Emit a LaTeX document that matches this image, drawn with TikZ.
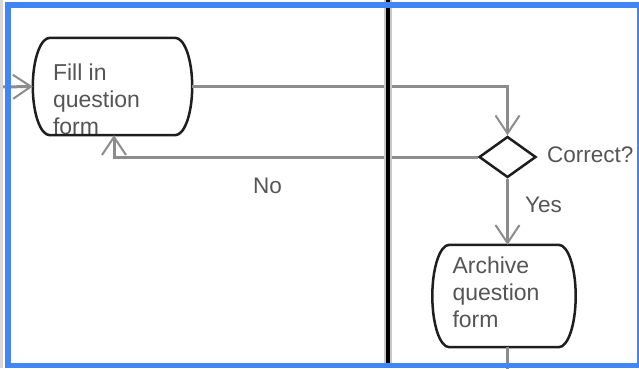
\documentclass[tikz,border=0pt]{standalone}
\usepackage{fontspec}
\setmainfont{Liberation Sans}
\usetikzlibrary{arrows.meta,shapes.geometric,calc}
\definecolor{frameblue}{RGB}{66,133,244}
\definecolor{conn}{RGB}{140,140,140}
\definecolor{txt}{RGB}{85,85,85}
\definecolor{outline}{RGB}{30,30,30}
\newcommand{\boxtext}[2]{\makebox[#1][l]{\begin{tabular}[t]{@{}l@{}}#2\end{tabular}}}
% capsule outline with half-elliptic sides (rx = 17pt) around a named node
\newcommand{\capsuleoutline}[1]{%
  \path[draw=outline, line width=2.5pt]
    ([xshift=17pt]#1.north west) -- ([xshift=-17pt]#1.north east)
    .. controls ([xshift=-7.61pt]#1.north east) and ($(#1.east)!0.5523!(#1.north east)$) .. (#1.east)
    .. controls ($(#1.east)!0.5523!(#1.south east)$) and ([xshift=-7.61pt]#1.south east) .. ([xshift=-17pt]#1.south east)
    -- ([xshift=17pt]#1.south west)
    .. controls ([xshift=7.61pt]#1.south west) and ($(#1.west)!0.5523!(#1.south west)$) .. (#1.west)
    .. controls ($(#1.west)!0.5523!(#1.north west)$) and ([xshift=7.61pt]#1.north west) .. cycle;}
\begin{document}
\begin{tikzpicture}[x=1pt,y=-1pt,
  activity/.style={inner sep=0pt, font=\fontsize{23}{27}\selectfont, text=txt},
  decision/.style={draw=outline, line width=2.5pt, diamond, inner sep=0pt,
    minimum width=57pt, minimum height=41pt, fill=white},
  flow/.style={draw=conn, line width=3pt, -{Straight Barb[length=18pt,width=24pt,line width=2pt]}},
  plainflow/.style={draw=conn, line width=3pt},
  lbl/.style={font=\fontsize{22.5}{27}\selectfont, text=txt, inner sep=0pt, anchor=base west}]
\path[fill=white] (0,0) rectangle (639,368);
\useasboundingbox (0,0) rectangle (639,368);
% nodes
\node[activity, minimum width=159pt, minimum height=97pt, text height=0pt, text depth=13pt]
  (fill) at (112.5,86.5) {\boxtext{119pt}{Fill in\\question\\form}};
\node[decision] (dec) at (507.5,157) {};
\node[activity, minimum width=143pt, minimum height=102pt, text height=0pt, text depth=46pt]
  (arch) at (504,296) {\boxtext{103pt}{Archive\\question\\form}};
\capsuleoutline{fill}
\capsuleoutline{arch}
% connectors
\coordinate (in) at (0,87);
\coordinate (out) at (507.5,370);
\draw[flow] (in) -- (fill.west);
\draw[flow] (fill.east) -| (dec.north);
\draw[flow] (dec.west) -| ([xshift=1.5pt]fill.south);
\draw[flow] (dec.south) -- (dec.south |- arch.north);
\draw[plainflow] (out |- arch.south) -- (out);
% labels
\node[lbl] (correct) at (547,162) {Correct?};
\node[lbl] (yes) at (525,212) {Yes};
\node[lbl] (no) at (253,193) {No};
% swimlane separator
\draw[line width=8pt, color={rgb,255:red,200;green,200;blue,200}] (388,0) -- (388,368);
\draw[line width=3.3pt, black] (388,0) -- (388,368);
% frame
\fill[color={rgb,255:red,215;green,215;blue,215}] (0,0) rectangle (2.5,368);
\fill[frameblue] (5,1.5) rectangle (11,368);
\fill[frameblue] (5,1.5) rectangle (639,8);
\fill[frameblue] (637,1.5) rectangle (639,368);
\fill[frameblue] (5,363) rectangle (639,368);
\end{tikzpicture}
\end{document}
